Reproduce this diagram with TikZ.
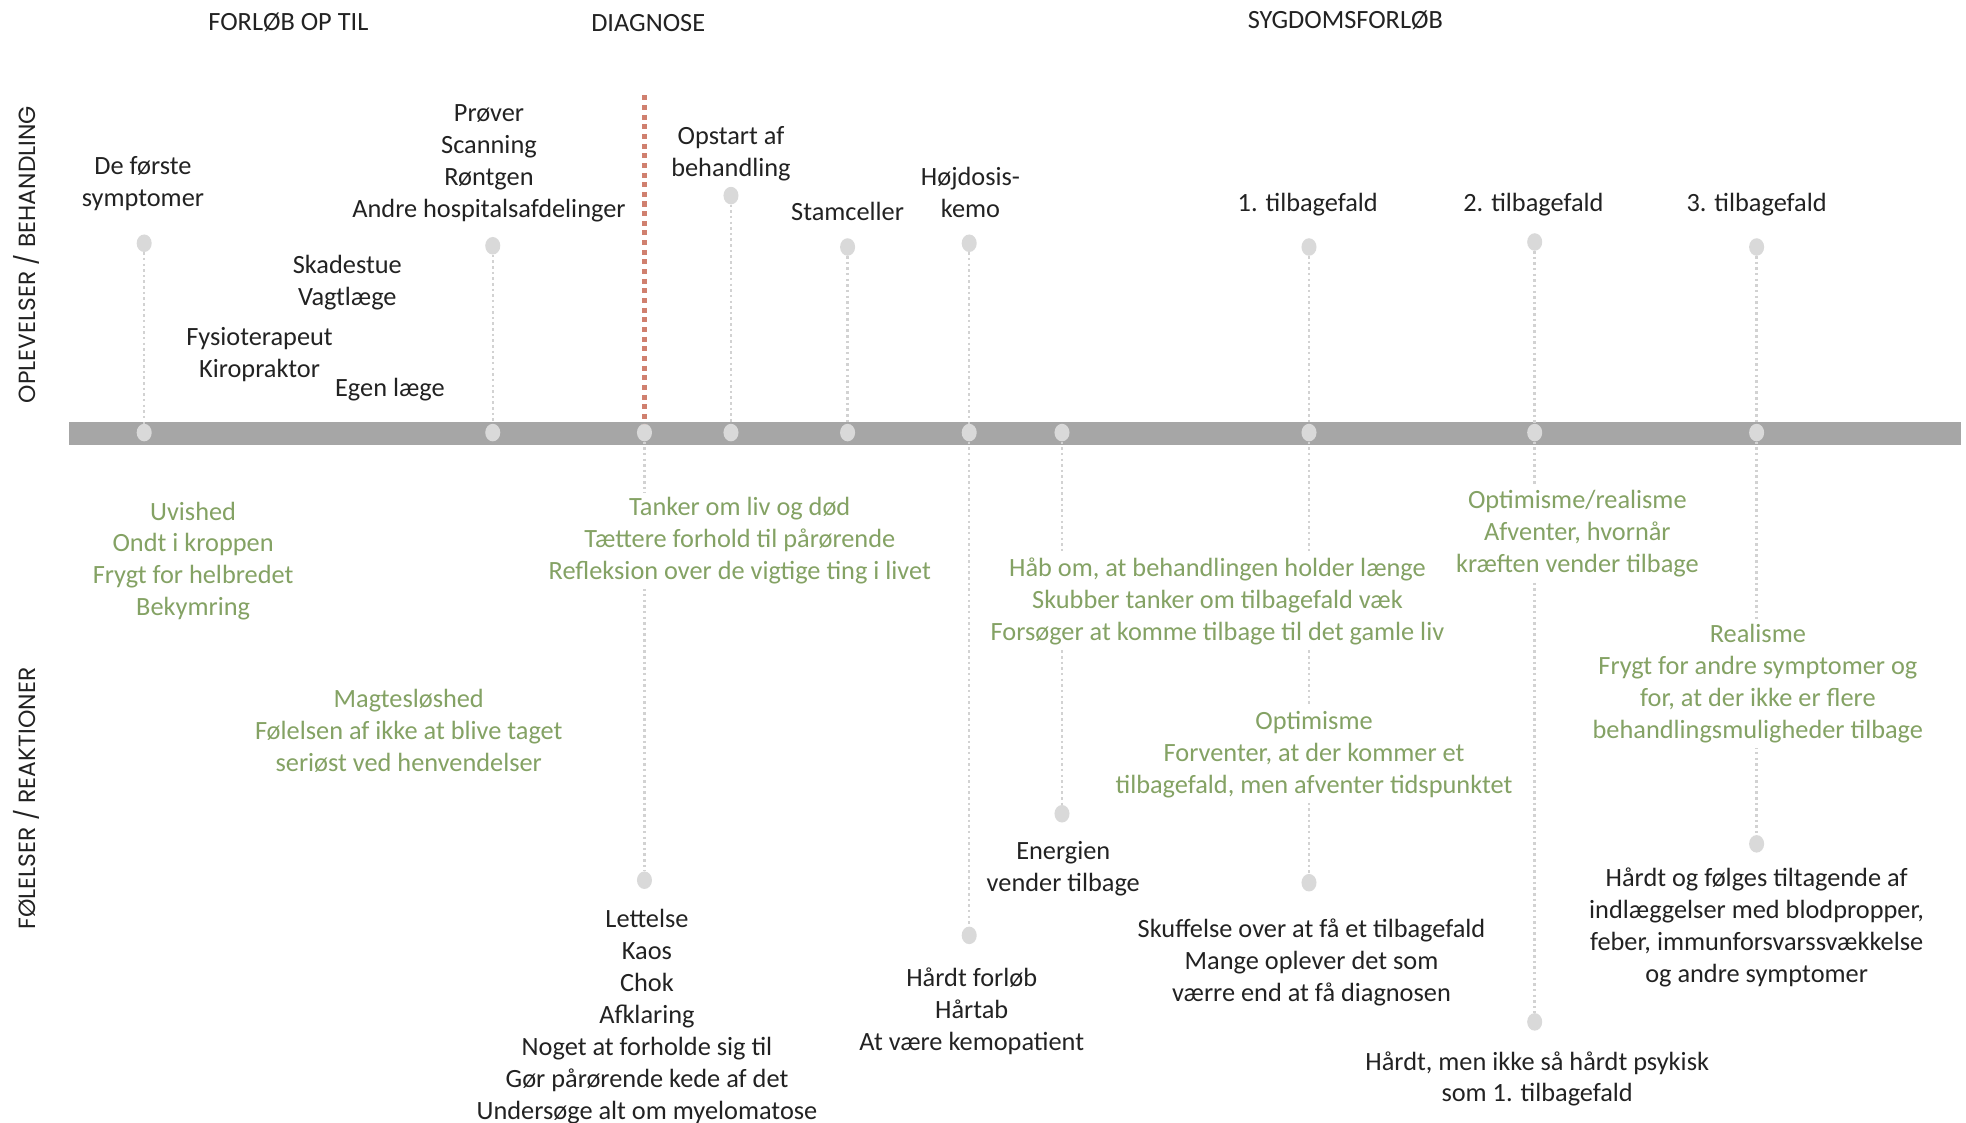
\documentclass[tikz,border=0pt]{standalone}
\usepackage{fontspec}
\setmainfont{Carlito}
\newfontfamily\sidefont{Poppins}
\usetikzlibrary{shapes.geometric}
\definecolor{bargray}{HTML}{A6A6A6}
\definecolor{dotgray}{HTML}{D9D9D9}
\definecolor{stemgray}{HTML}{D2D2D2}
\definecolor{redc}{HTML}{D0806F}
\definecolor{grn}{RGB}{132,162,100}
\definecolor{ink}{HTML}{222222}
\begin{document}
\begin{tikzpicture}[x=1pt,y=-1pt,
  every node/.style={font=\fontsize{21}{25.5}\selectfont},
  txt/.style={align=center,inner sep=4pt,text=ink,yshift=-2.5pt},
  head/.style={align=center,inner sep=4pt,text=ink},
  gtxt/.style={align=center,inner sep=4pt,text=grn,fill=white,yshift=-2.5pt},
  side/.style={rotate=90,inner sep=0pt,text=ink},
  dot/.style={ellipse,fill=dotgray,minimum width=12pt,minimum height=14pt,inner sep=0pt},
  stem/.style={draw=stemgray,line width=2pt,dash pattern=on 2pt off 2.5pt},
  redline/.style={draw=redc,line width=4pt,dash pattern=on 4pt off 3.7pt}
]
\useasboundingbox (0,0) rectangle (1568,895);

% timeline bar
\node[fill=bargray,minimum width=1509pt,minimum height=18.3pt,inner sep=0pt,anchor=west] (bar) at (55,345.7) {};

% bar dots
\node[dot] (b1) at (115,345) {};
\node[dot] (b2) at (393,345) {};
\node[dot] (b3) at (514,345) {};
\node[dot] (b4) at (583,345) {};
\node[dot] (b5) at (676,345) {};
\node[dot] (b6) at (773,345) {};
\node[dot] (b7) at (847,345) {};
\node[dot] (b8) at (1044,345) {};
\node[dot] (b9) at (1224,345) {};
\node[dot] (b10) at (1401,345) {};

% upper dots
\node[dot] (u1) at (115,194) {};
\node[dot] (u2) at (393,196) {};
\node[dot] (u4) at (583,156) {};
\node[dot] (u5) at (676,197) {};
\node[dot] (u6) at (773,194) {};
\node[dot] (u8) at (1044,197) {};
\node[dot] (u9) at (1224,193) {};
\node[dot] (u10) at (1401,197) {};

% lower dots
\node[dot] (l3) at (514,702) {};
\node[dot] (l6) at (773,746) {};
\node[dot] (l7) at (847,649) {};
\node[dot] (l8) at (1044,704) {};
\node[dot] (l9) at (1224,815) {};
\node[dot] (l10) at (1401,673) {};

% diagnosis line
\coordinate (rtop) at (514,76);
\draw[redline] (rtop) -- (b3);

% stems
\draw[stem] (u1) -- (b1);
\draw[stem] (u2) -- (b2);
\draw[stem] (u4) -- (b4);
\draw[stem] (u5) -- (b5);
\draw[stem] (u6) -- (b6);
\draw[stem] (u8) -- (b8);
\draw[stem] (u9) -- (b9);
\draw[stem] (u10) -- (b10);
\draw[stem] (b3) -- (l3);
\draw[stem] (b6) -- (l6);
\draw[stem] (b7) -- (l7);
\draw[stem] (b8) -- (l8);
\draw[stem] (b9) -- (l9);
\draw[stem] (b10) -- (l10);

% headers
\node[head] (h1) at (230,18) {FORLØB OP TIL};
\node[head] (h2) at (517,18) {DIAGNOSE};
\node[head] (h3) at (1073,16) {SYGDOMSFORLØB};

% side labels
\node[side] (s1) at (21,203) {\resizebox{237pt}{!}{\sidefont OPLEVELSER / BEHANDLING}};
\node[side] (s2) at (21,637) {\resizebox{209pt}{!}{\sidefont FØLELSER / REAKTIONER}};

% upper texts
\node[txt] (t1) at (114,144) {De første\\symptomer};
\node[txt] (t2) at (390,128) {Prøver\\Scanning\\Røntgen\\Andre hospitalsafdelinger};
\node[txt] (t3) at (277,223) {Skadestue\\Vagtlæge};
\node[txt] (t4) at (207,280) {Fysioterapeut\\Kiropraktor};
\node[txt] (t5) at (311,308) {Egen læge};
\node[txt] (t6) at (583,120) {Opstart af\\behandling};
\node[txt] (t7) at (676,166) {Stamceller};
\node[txt] (t8) at (774,151) {Højdosis-\\kemo};
\node[txt] (t9) at (1043,161) {1. tilbagefald};
\node[txt] (t10) at (1223,161) {2. tilbagefald};
\node[txt] (t11) at (1401,161) {3. tilbagefald};

% green feelings
\node[gtxt] (g1) at (154,445) {Uvished\\Ondt i kroppen\\Frygt for helbredet\\Bekymring};
\node[gtxt] (g2) at (326,580) {Magtesløshed\\Følelsen af ikke at blive taget\\seriøst ved henvendelser};
\node[gtxt] (g3) at (590,429) {Tanker om liv og død\\Tættere forhold til pårørende\\Refleksion over de vigtige ting i livet};
\node[gtxt] (g4) at (971,477) {Håb om, at behandlingen holder længe\\Skubber tanker om tilbagefald væk\\Forsøger at komme tilbage til det gamle liv};
\node[gtxt] (g5) at (1258,423) {Optimisme/realisme\\Afventer, hvornår\\kræften vender tilbage};
\node[gtxt] (g6) at (1048,599) {Optimisme\\Forventer, at der kommer et\\tilbagefald, men afventer tidspunktet};
\node[gtxt] (g7) at (1402,543) {Realisme\\Frygt for andre symptomer og\\for, at der ikke er flere\\behandlingsmuligheder tilbage};

% black reactions
\node[txt] (k1) at (516,808) {Lettelse\\Kaos\\Chok\\Afklaring\\Noget at forholde sig til\\Gør pårørende kede af det\\Undersøge alt om myelomatose};
\node[txt] (k2) at (775,804) {Hårdt forløb\\Hårtab\\At være kemopatient};
\node[txt] (k3) at (848,690) {Energien\\vender tilbage};
\node[txt] (k4) at (1046,765) {Skuffelse over at få et tilbagefald\\Mange oplever det som\\værre end at få diagnosen};
\node[txt] (k5) at (1226,858) {Hårdt, men ikke så hårdt psykisk\\som 1. tilbagefald};
\node[txt] (k6) at (1401,737) {Hårdt og følges tiltagende af\\indlæggelser med blodpropper,\\feber, immunforsvarssvækkelse\\og andre symptomer};
\end{tikzpicture}
\end{document}
